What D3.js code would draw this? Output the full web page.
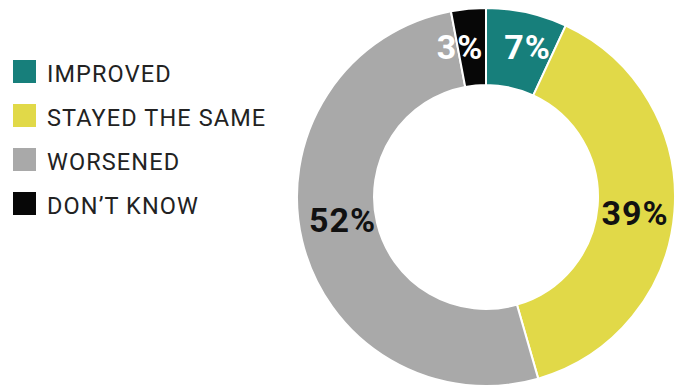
<!DOCTYPE html>
<html>
<head>
<meta charset="utf-8">
<script src="https://cdn.jsdelivr.net/npm/d3@7"></script>
<style>
  html, body { margin: 0; padding: 0; background: #fff; }
  svg { display: block; }
</style>
</head>
<body>
<svg id="chart" width="677" height="388"></svg>
<script>
// Survey responses, share of respondents (%)
const categories = ["IMPROVED", "STAYED THE SAME", "WORSENED", "DON'T KNOW"];
const values = [7, 39, 52, 3];
const valueLabels = ["7%", "39%", "52%", "3%"];
const legendLabels = ["IMPROVED", "STAYED THE SAME", "WORSENED", "DON\u2019T KNOW"];

const colors = d3.scaleOrdinal()
  .domain(categories)
  .range(["#177f7b", "#e1d948", "#a9a9a9", "#070707"]);
const labelColors = d3.scaleOrdinal()
  .domain(categories)
  .range(["#ffffff", "#111111", "#111111", "#ffffff"]);
// small nudges so labels sit clear of slice edges
const labelNudge = {
  "IMPROVED": [9, -3],
  "STAYED THE SAME": [-1, 4],
  "WORSENED": [3, -12],
  "DON'T KNOW": [-12, 0]
};

const svg = d3.select("#chart");
const cx = 486, cy = 197;
const outerR = 189, innerR = 112;

const pie = d3.pie().sort(null).value(d => d.value);
const arc = d3.arc().innerRadius(innerR).outerRadius(outerR);
const labelArc = d3.arc().innerRadius(innerR).outerRadius(outerR);

const data = categories.map((c, i) => ({ cat: c, value: values[i], label: valueLabels[i] }));
const arcs = pie(data);

const g = svg.append("g").attr("transform", `translate(${cx},${cy})`);

g.selectAll("path.slice")
  .data(arcs)
  .join("path")
  .attr("class", "slice")
  .attr("d", arc)
  .attr("fill", d => colors(d.data.cat))
  .attr("stroke", "#ffffff")
  .attr("stroke-width", 2);

g.selectAll("text.val")
  .data(arcs)
  .join("text")
  .attr("class", "val")
  .attr("x", d => labelArc.centroid(d)[0] + labelNudge[d.data.cat][0])
  .attr("y", d => labelArc.centroid(d)[1] + labelNudge[d.data.cat][1])
  .attr("text-anchor", "middle")
  .attr("dominant-baseline", "central")
  .attr("font-family", "Roboto, 'Noto Sans', sans-serif")
  .attr("font-weight", 700)
  .attr("font-size", 34)
  .attr("letter-spacing", 1)
  .attr("fill", d => labelColors(d.data.cat))
  .text(d => d.data.label);

// Legend
const legendY = d3.scaleBand()
  .domain(categories)
  .range([60, 236])
  .paddingInner(0);

const legend = svg.append("g");
const items = legend.selectAll("g.item")
  .data(categories)
  .join("g")
  .attr("class", "item")
  .attr("transform", d => `translate(13,${legendY(d)})`);

items.append("rect")
  .attr("width", 23)
  .attr("height", 23)
  .attr("fill", d => colors(d));

items.append("text")
  .attr("x", 34)
  .attr("y", 22)
  .attr("font-family", "Roboto, 'Noto Sans', sans-serif")
  .attr("font-size", 23.5)
  .attr("letter-spacing", 1.1)
  .attr("fill", "#222222")
  .text((d, i) => legendLabels[i]);
</script>
</body>
</html>
